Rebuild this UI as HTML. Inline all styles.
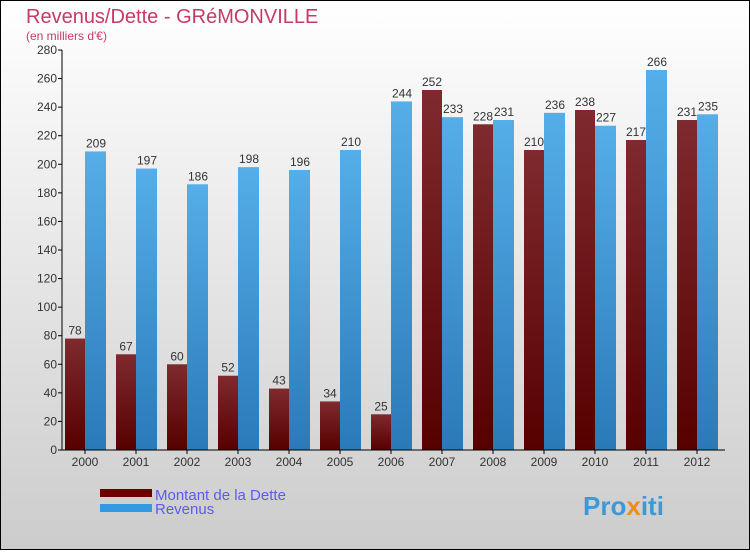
<!DOCTYPE html>
<html><head><meta charset="utf-8"><style>
body{margin:0;width:750px;height:550px;overflow:hidden;font-family:"Liberation Sans",sans-serif}
</style></head><body>
<svg id="c" width="750" height="550" xmlns="http://www.w3.org/2000/svg">
<defs>
<linearGradient id="bg" x1="0" y1="0" x2="0" y2="1"><stop offset="0" stop-color="#ffffff"/><stop offset="1" stop-color="#cccccc"/></linearGradient>
<linearGradient id="gd" x1="0" y1="0" x2="0" y2="1"><stop offset="0" stop-color="#7f2a2e"/><stop offset="1" stop-color="#560000"/></linearGradient>
<linearGradient id="gr" x1="0" y1="0" x2="0" y2="1"><stop offset="0" stop-color="#55aee8"/><stop offset="1" stop-color="#2a7ab8"/></linearGradient>
</defs>
<rect x="0.5" y="0.5" width="749" height="549" fill="url(#bg)" stroke="#000"/>
<text x="26" y="23" font-size="20" fill="#c8386a">Revenus/Dette - GRéMONVILLE</text>
<text x="26" y="40" font-size="12" fill="#c8386a">(en milliers d'€)</text>
<g id="plot"></g>
<rect x="100" y="489" width="52" height="8" fill="#6a0000"/>
<text x="155" y="500" font-size="15" fill="#5b5bef">Montant de la Dette</text>
<rect x="100" y="504" width="52" height="8" fill="#3399e0"/>
<text x="155" y="514" font-size="15" fill="#5b5bef">Revenus</text>
<text x="583" y="515" font-size="26" font-weight="bold" fill="#3a9ad9">Pro<tspan fill="#f08a1c">x</tspan>iti</text>
</svg>
<script>
const years=["2000","2001","2002","2003","2004","2005","2006","2007","2008","2009","2010","2011","2012"];
const dette=[78,67,60,52,43,34,25,252,228,210,238,217,231];
const revenus=[209,197,186,198,196,210,244,233,231,236,227,266,235];
const yTicks=[0,20,40,60,80,100,120,140,160,180,200,220,240,260,280];
const NS="http://www.w3.org/2000/svg";
const g=document.getElementById('plot');
const x0=62,y0=450,yMax=280,h=400,step=51;
const y=v=>y0-v/yMax*h;
function el(t,a){const e=document.createElementNS(NS,t);for(const k in a)e.setAttribute(k,a[k]);g.appendChild(e);return e;}
yTicks.forEach(t=>{
 const l=el('line',{x1:x0-4,x2:x0,y1:y(t),y2:y(t),stroke:'#000'});
 
 
 const tx=el('text',{x:x0-5,y:y(t)+4,'font-size':12,fill:'#333','text-anchor':'end'});
 tx.textContent=t;
 
 
});
years.forEach((yr,i)=>{
 const gx=x0+step*i;
 const d=el('rect',{x:gx+3,y:y(dette[i]),width:20,height:y0-y(dette[i]),fill:'url(#gd)'});
 
 
 const r=el('rect',{x:gx+23,y:y(revenus[i]),width:21,height:y0-y(revenus[i]),fill:'url(#gr)'});
 
 
 const t1=el('text',{x:gx+13,y:y(dette[i])-4,'font-size':12,fill:'#333','text-anchor':'middle'});
 t1.textContent=dette[i];
 
 
 const t2=el('text',{x:gx+34,y:y(revenus[i])-4,'font-size':12,fill:'#333','text-anchor':'middle'});
 t2.textContent=revenus[i];
 
 
 const xl=el('text',{x:gx+23,y:466,'font-size':12,fill:'#333','text-anchor':'middle'});
 xl.textContent=yr;
 
 
 const xt=el('line',{x1:gx+23,x2:gx+23,y1:y0,y2:y0+4,stroke:'#000'});
 
 
});
const ya=el('line',{x1:x0,x2:x0,y1:y(280),y2:y0,stroke:'#000'});


const xa=el('line',{x1:x0,x2:x0+step*13,y1:y0,y2:y0,stroke:'#000'});


</script>
</body></html>
